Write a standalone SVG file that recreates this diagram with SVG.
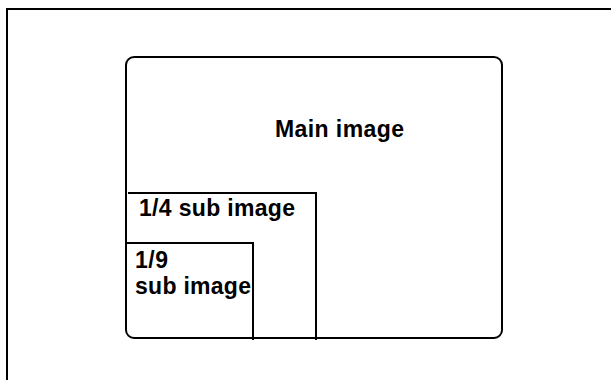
<svg xmlns="http://www.w3.org/2000/svg" width="611" height="380" viewBox="0 0 611 380">
<style>
.ln{fill:none;stroke:#000;stroke-width:2}
.lbl{font-family:"Liberation Sans",Arial,sans-serif;font-weight:bold;font-size:23px;fill:#000}
</style>
<rect width="611" height="380" fill="#fff"/>
<g id="frame"><path class="ln" d="M7,380 V9 H611" stroke-width="2.5"/></g>
<g id="main-image">
<rect class="ln" x="126" y="57" width="376" height="281" rx="8"/>
<text class="lbl" x="275" y="137" textLength="129">Main image</text>
</g>
<g id="quarter-sub-image">
<path class="ln" d="M128,193 H316 V340"/>
<text class="lbl" x="139" y="216" textLength="156">1/4 sub image</text>
</g>
<g id="ninth-sub-image">
<path class="ln" d="M127,243 H253 V340"/>
<text class="lbl" x="135" y="268" textLength="33">1/9</text>
<text class="lbl" x="135" y="294" textLength="116">sub image</text>
</g>
<g id="connectors"></g>
</svg>
